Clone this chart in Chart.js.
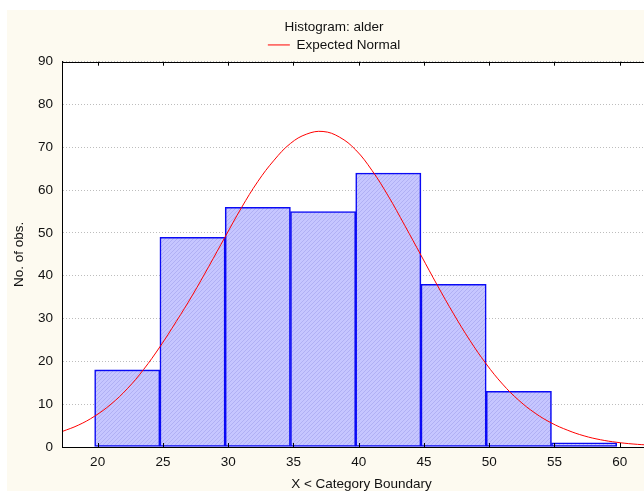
<!DOCTYPE html>
<html>
<head>
<meta charset="utf-8">
<title>Histogram: alder</title>
<script src="https://cdn.jsdelivr.net/npm/chart.js@4"></script>
<style>
html, body { margin: 0; padding: 0; overflow: hidden; background: #fff; }
canvas { display: block; }
</style>
</head>
<body>
<canvas id="myChart" width="661" height="491"></canvas>
<script>
// histogram bins (category boundaries) and counts
var binEdges = [20, 25, 30, 35, 40, 45, 50, 55, 60]
var counts = [18, 49, 56, 55, 64, 38, 13, 1]

// expected normal curve
var normalX = [17.5, 18.75, 20, 21.25, 22.5, 23.75, 25, 26.25, 27.5, 28.75, 30, 31.25, 32.5, 33.75, 35, 36.25, 37.5, 38.75, 40, 41.25, 42.5, 43.75, 45, 46.25, 47.5, 48.75, 50, 51.25, 52.5, 53.75, 55, 56.25, 57.5, 58.75, 60, 61.25, 62.5, 63.75]
var normalY = [3.6, 5.1, 7.2, 10, 13.6, 18.1, 23.4, 29.3, 35.5, 42.2, 49.1, 55.9, 62, 67, 70.9, 73.1, 73.7, 72.4, 69.4, 64.6, 58.6, 51.8, 44.8, 37.8, 31.1, 24.9, 19.4, 14.7, 10.9, 7.9, 5.6, 3.9, 2.6, 1.7, 1.1, 0.7, 0.45, 0.28]

var xTicks = [20, 25, 30, 35, 40, 45, 50, 55, 60]
var yTicks = [0, 10, 20, 30, 40, 50, 60, 70, 80, 90]

var fontFamily = '"Liberation Sans", Arial, sans-serif'
var textColor = '#111111'

var canvas = document.getElementById('myChart')
var ctx = canvas.getContext('2d')

// light blue hatched fill for the bars
var hatch = document.createElement('canvas')
hatch.width = 4
hatch.height = 4
var hctx = hatch.getContext('2d')
hctx.fillStyle = '#c6c6ff'
hctx.fillRect(0, 0, 4, 4)
hctx.fillStyle = '#b0b0f4'
for (var i = 0; i < 4; i++) {
    hctx.fillRect(i, 3 - i, 1, 1)
}
var hatchFill = ctx.createPattern(hatch, 'repeat')

var bars = []
for (var i = 0; i < counts.length; i++) {
    bars.push({ x: (binEdges[i] + binEdges[i + 1]) / 2, y: counts[i] })
}
var curve = []
for (var i = 0; i < normalX.length; i++) {
    curve.push({ x: normalX[i], y: normalY[i] })
}

var paper = {
    id: 'paper',
    beforeDraw: function (chart) {
        var c = chart.ctx, a = chart.chartArea
        c.save()
        c.fillStyle = '#ffffff'
        c.fillRect(0, 0, chart.width, chart.height)
        c.fillStyle = '#fdfaf0'
        c.fillRect(7, 10, chart.width - 7, chart.height - 10)
        c.fillStyle = '#ffffff'
        c.fillRect(a.left, a.top, a.right - a.left, a.bottom - a.top)
        c.restore()
    },
    afterDatasetsDraw: function (chart) {
        // top frame line and small inward tick marks
        var c = chart.ctx, a = chart.chartArea, sx = chart.scales.x
        c.save()
        c.strokeStyle = '#000000'
        c.lineWidth = 1
        c.beginPath()
        c.moveTo(a.left, Math.round(a.top) + 0.5)
        c.lineTo(a.right, Math.round(a.top) + 0.5)
        xTicks.forEach(function (v) {
            var px = Math.round(sx.getPixelForValue(v)) + 3.5
            c.moveTo(px, a.top)
            c.lineTo(px, a.top + 4)
            c.moveTo(px, a.bottom)
            c.lineTo(px, a.bottom - 4)
        })
        c.stroke()
        c.restore()
    }
}

var chart = new Chart(ctx, {
    type: 'bar',
    data: {
        datasets: [
            {
                type: 'line',
                label: 'Expected Normal',
                data: curve,
                borderColor: '#ff0000',
                borderWidth: 1,
                pointRadius: 0,
                fill: false,
                tension: 0.4
            },
            {
                type: 'bar',
                label: 'alder',
                data: bars,
                backgroundColor: hatchFill,
                borderColor: '#0a0af5',
                borderWidth: 1.6,
                borderSkipped: false,
                barPercentage: 1,
                categoryPercentage: 1,
                grouped: false
            }
        ]
    },
    options: {
        responsive: false,
        animation: false,
        devicePixelRatio: 1,
        layout: { padding: { left: 7, top: 10, right: 0, bottom: 0 } },
        plugins: {
            title: {
                display: true,
                text: 'Histogram: alder',
                color: textColor,
                padding: { top: 9, bottom: 0 },
                font: { family: fontFamily, size: 13.5, weight: 'normal' }
            },
            legend: {
                labels: {
                    usePointStyle: true,
                    pointStyle: 'line',
                    pointStyleWidth: 22,
                    padding: 3,
                    color: textColor,
                    font: { family: fontFamily, size: 13.5 },
                    filter: function (item) { return item.datasetIndex === 0 }
                }
            },
            tooltip: { enabled: false }
        },
        scales: {
            x: {
                type: 'linear',
                offset: false,
                min: 17.5,
                max: 63.39,
                afterBuildTicks: function (s) {
                    s.ticks = xTicks.map(function (v) { return { value: v } })
                },
                afterFit: function (s) { s.height = 44 },
                ticks: {
                    padding: 7,
                    labelOffset: 3,
                    color: textColor,
                    font: { family: fontFamily, size: 13.5 }
                },
                grid: { display: false, drawTicks: false },
                border: { color: '#000000', width: 1, z: 1 },
                title: {
                    display: true,
                    text: 'X < Category Boundary',
                    color: textColor,
                    padding: { top: 0, bottom: -1 },
                    font: { family: fontFamily, size: 13.5 }
                }
            },
            y: {
                min: 0,
                max: 90,
                afterBuildTicks: function (s) {
                    s.ticks = yTicks.map(function (v) { return { value: v } })
                },
                afterFit: function (s) { s.width = 55 },
                ticks: {
                    padding: 9,
                    color: textColor,
                    font: { family: fontFamily, size: 13.5 }
                },
                grid: { color: '#bdbdbd', drawTicks: false },
                border: { color: '#000000', width: 1, dash: [1, 2], z: 1 },
                title: {
                    display: true,
                    text: 'No. of obs.',
                    color: textColor,
                    padding: { top: 4, bottom: 0 },
                    font: { family: fontFamily, size: 13.5 }
                }
            }
        }
    },
    plugins: [paper]
})
</script>
</body>
</html>
